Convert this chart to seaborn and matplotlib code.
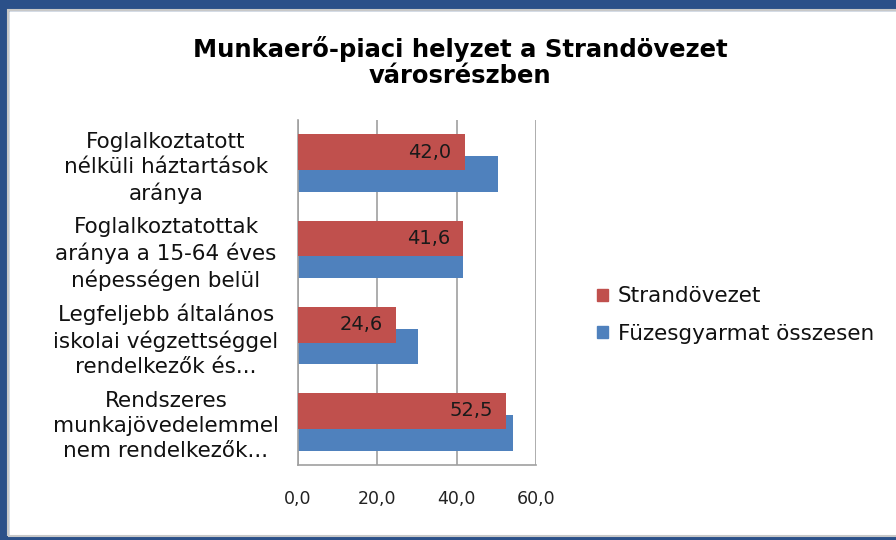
import pandas as pd
import matplotlib.pyplot as plt
import seaborn as sns
from matplotlib.patches import Rectangle

# --- chart data ---
categories = [
    "Foglalkoztatott\nnélküli háztartások\naránya",
    "Foglalkoztatottak\naránya a 15-64 éves\nnépességen belül",
    "Legfeljebb általános\niskolai végzettséggel\nrendelkezők és...",
    "Rendszeres\nmunkajövedelemmel\nnem rendelkezők...",
]
strand_values = [42.0, 41.6, 24.6, 52.5]
fuzes_values = [50.4, 41.6, 30.3, 54.2]
series_names = ["Strandövezet", "Füzesgyarmat összesen"]
x_ticks = [0, 20, 40, 60]
x_ticklabels = ["0,0", "20,0", "40,0", "60,0"]
title = "Munkaerő-piaci helyzet a Strandövezet\nvárosrészben"

colors = {"Strandövezet": "#c0504d", "Füzesgyarmat összesen": "#4f81bd"}

df = pd.DataFrame({
    "cat": categories * 2,
    "value": strand_values + fuzes_values,
    "series": [series_names[0]] * 4 + [series_names[1]] * 4,
})

sns.set_style("white")
plt.rcParams["font.family"] = ["DejaVu Sans"]

fig = plt.figure(figsize=(8.96, 5.4), dpi=100)
ax = fig.add_axes([298 / 896, 1 - 465 / 540, 238 / 896, 345 / 540])

sns.barplot(data=df, y="cat", x="value", hue="series", hue_order=series_names,
            palette=colors, orient="h", width=0.83, saturation=1,
            ax=ax, legend=False)

# Excel-style overlap: pull the two bars toward each other, red in front
bar_w = 0.415
shift = (bar_w - 0.254) / 2
n = len(categories)
for i, p in enumerate(ax.patches[:2 * n]):
    p.set_edgecolor("none")
    if i < n:
        p.set_y(p.get_y() + shift)
        p.set_zorder(3)
    else:
        p.set_y(p.get_y() - shift)
        p.set_zorder(2)

# data labels on the red bars (inside end)
for i, v in enumerate(strand_values):
    p = ax.patches[i]
    ax.text(v - 3.3, p.get_y() + p.get_height() / 2, f"{v:.1f}".replace(".", ","),
            ha="right", va="center", fontsize=14, color="#1a1a1a", zorder=4)

ax.set_xlim(0, 60)
ax.set_ylim(n - 0.5, -0.5)
ax.set_xticks(x_ticks)
ax.set_xticklabels(x_ticklabels, fontsize=12.5, color="#222222")
ax.tick_params(axis="x", length=0, pad=18)
ax.tick_params(axis="y", length=0)
for lbl in ax.get_yticklabels():
    lbl.set_fontsize(15.5)
    lbl.set_ha("center")
    lbl.set_multialignment("center")
    lbl.set_linespacing(1.3)
    lbl.set_color("#111111")
ax.yaxis.set_tick_params(pad=95)
ax.set_xlabel("")
ax.set_ylabel("")
ax.grid(axis="x", color="#a0a0a0", linewidth=1.2)
ax.set_axisbelow(True)
for side in ["top", "right"]:
    ax.spines[side].set_visible(False)
for side in ["left", "bottom"]:
    ax.spines[side].set_color("#a0a0a0")
    ax.spines[side].set_linewidth(1.2)

fig.text(460 / 896, 1 - 62 / 540, title, ha="center", va="center",
         fontsize=17.5, fontweight="bold", linespacing=1.15, color="#000000")

# legend
handles = [Rectangle((0, 0), 1, 1, color=colors[s]) for s in series_names]
fig.legend(handles, series_names, loc="center left",
           bbox_to_anchor=(578 / 896, 1 - 315 / 540), frameon=False,
           fontsize=15.5, handlelength=0.5, handleheight=0.5,
           handletextpad=0.45, labelspacing=0.8, labelcolor="#111111")

# window-like frame
fig.patches.append(Rectangle((0, 1 - 10 / 540), 1, 10 / 540, transform=fig.transFigure,
                             color="#2b5089", zorder=0))
fig.patches.append(Rectangle((0, 0), 8 / 896, 1, transform=fig.transFigure,
                             color="#2b5089", zorder=0))
fig.patches.append(Rectangle((0, 0), 1, 4 / 540, transform=fig.transFigure,
                             color="#2b5089", zorder=0))
fig.patches.append(Rectangle((8 / 896, 4 / 540), 1, 1 - 14 / 540, transform=fig.transFigure,
                             fill=False, edgecolor="#c8c8c8", linewidth=1.5, zorder=0))

fig.savefig("out.png", dpi=100)
